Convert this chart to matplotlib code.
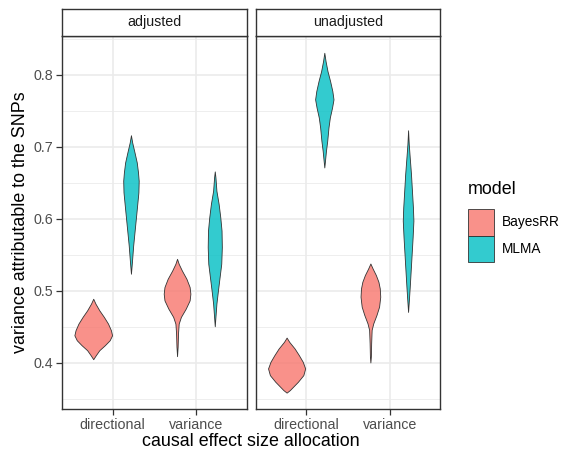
import numpy as np
import matplotlib
matplotlib.use('Agg')
import matplotlib.pyplot as plt
from matplotlib.colors import to_rgba
from matplotlib.patches import Rectangle

plt.rcParams['font.family'] = ['Liberation Sans', 'DejaVu Sans']

facets = ['adjusted', 'unadjusted']
allocations = ['directional', 'variance']
models = ['BayesRR', 'MLMA']
model_colors = ['#F8766D', '#00BFC4']
y_ticks = [0.4, 0.5, 0.6, 0.7, 0.8]
y_title = 'variance attributable to the SNPs'
x_title = 'causal effect size allocation'
legend_title = 'model'

# Violin profiles: value (y) and relative density (d)
adj_dir_bayes_y = [0.4883, 0.4815, 0.4722, 0.4631, 0.4538, 0.4446, 0.4376, 0.4307, 0.4238, 0.4169, 0.4100, 0.4044]
adj_dir_bayes_d = [0.0, 2.3, 6.3, 11.0, 15.3, 18.3, 19.5, 17.0, 12.0, 6.3, 2.7, 0.0]

adj_dir_mlma_y = [0.7152, 0.7051, 0.6913, 0.6775, 0.6636, 0.6520, 0.6360, 0.6221, 0.6083, 0.5852, 0.5621, 0.5391, 0.5230]
adj_dir_mlma_d = [0.0, 1.3, 3.7, 6.0, 7.3, 8.0, 7.7, 6.7, 5.7, 4.0, 2.3, 1.0, 0.0]

adj_var_bayes_y = [0.5437, 0.5368, 0.5275, 0.5160, 0.5046, 0.4953, 0.4860, 0.4746, 0.4631, 0.4538, 0.4400, 0.4216, 0.4086]
adj_var_bayes_d = [0.0, 1.7, 5.0, 9.7, 13.0, 13.8, 13.0, 9.0, 4.0, 1.7, 1.0, 0.6, 0.0]

adj_var_mlma_y = [0.6650, 0.6567, 0.6382, 0.6198, 0.6014, 0.5829, 0.5599, 0.5368, 0.5184, 0.4999, 0.4815, 0.4631, 0.4501]
adj_var_mlma_d = [0.0, 0.7, 1.7, 4.0, 5.7, 7.0, 7.3, 6.7, 5.0, 3.3, 1.7, 0.7, 0.0]

unadj_dir_bayes_y = [0.4344, 0.4285, 0.4192, 0.4100, 0.4008, 0.3916, 0.3823, 0.3731, 0.3662, 0.3615, 0.3580]
unadj_dir_bayes_d = [0.0, 2.7, 8.3, 12.7, 16.7, 19.2, 17.3, 11.7, 6.7, 3.3, 0.0]

unadj_dir_mlma_y = [0.8296, 0.8180, 0.8041, 0.7903, 0.7765, 0.7650, 0.7535, 0.7397, 0.7259, 0.7073, 0.6935, 0.6797, 0.6705]
unadj_dir_mlma_d = [0.0, 1.3, 3.3, 6.0, 8.3, 9.5, 8.0, 5.7, 4.3, 3.0, 1.7, 0.7, 0.0]

unadj_var_bayes_y = [0.5372, 0.5303, 0.5211, 0.5119, 0.5027, 0.4911, 0.4773, 0.4658, 0.4542, 0.4451, 0.4266, 0.4082, 0.3999]
unadj_var_bayes_d = [0.0, 2.3, 5.7, 8.3, 9.7, 10.2, 9.0, 6.3, 3.0, 1.3, 0.8, 0.5, 0.0]

unadj_var_mlma_y = [0.7221, 0.7028, 0.6844, 0.6613, 0.6382, 0.6152, 0.5967, 0.5737, 0.5506, 0.5275, 0.5046, 0.4860, 0.4700]
unadj_var_mlma_d = [0.0, 0.7, 1.7, 3.0, 4.0, 5.0, 5.5, 4.7, 3.7, 2.7, 1.7, 0.8, 0.0]

profiles = {
    ('adjusted', 'directional', 'BayesRR'): (adj_dir_bayes_y, adj_dir_bayes_d),
    ('adjusted', 'directional', 'MLMA'): (adj_dir_mlma_y, adj_dir_mlma_d),
    ('adjusted', 'variance', 'BayesRR'): (adj_var_bayes_y, adj_var_bayes_d),
    ('adjusted', 'variance', 'MLMA'): (adj_var_mlma_y, adj_var_mlma_d),
    ('unadjusted', 'directional', 'BayesRR'): (unadj_dir_bayes_y, unadj_dir_bayes_d),
    ('unadjusted', 'directional', 'MLMA'): (unadj_dir_mlma_y, unadj_dir_mlma_d),
    ('unadjusted', 'variance', 'BayesRR'): (unadj_var_bayes_y, unadj_var_bayes_d),
    ('unadjusted', 'variance', 'MLMA'): (unadj_var_mlma_y, unadj_var_mlma_d),
}

W, H = 561, 454
fig = plt.figure(figsize=(W / 100, H / 100), dpi=100)
fig.patch.set_facecolor('white')

SMALL = 10.3
BIG = 12.9

def fbox(x0, y0, x1, y1):
    return [x0 / W, 1 - y1 / H, (x1 - x0) / W, (y1 - y0) / H]

panel_x = [(62.3, 246.7), (255.7, 440.0)]
panel_top, panel_bot = 35.7, 409.0
strip_top = 8.7

dmax = max(max(d) for _, d in profiles.values())
dodge = 0.9
half_w = dodge / 2 / 2
edge = '#333333'

for fi, facet in enumerate(facets):
    x0, x1 = panel_x[fi]
    ax = fig.add_axes(fbox(x0, panel_top, x1, panel_bot))
    ax.set_xlim(0.4, 2.6)
    ax.set_ylim(0.336, 0.854)
    # grid
    for yv in np.arange(0.35, 0.86, 0.1):
        ax.axhline(yv, color='#EBEBEB', lw=0.6, zorder=0)
    for yv in y_ticks:
        ax.axhline(yv, color='#EBEBEB', lw=1.2, zorder=0)
    for xi in range(len(allocations)):
        ax.axvline(xi + 1, color='#EBEBEB', lw=1.2, zorder=0)
    # violins
    for ai, alloc in enumerate(allocations):
        for mi, model in enumerate(models):
            yv, dv = profiles[(facet, alloc, model)]
            yv = np.array(yv)
            dv = np.array(dv)
            cx = ai + 1 + (mi - 0.5) * dodge / 2
            hw = dv / dmax * half_w
            xs = np.concatenate([cx - hw, (cx + hw)[::-1]])
            ys = np.concatenate([yv, yv[::-1]])
            ax.fill(xs, ys, facecolor=to_rgba(model_colors[mi], 0.8),
                    edgecolor=edge, lw=0.6, zorder=3, joinstyle='round')
    ax.set_xticks(range(1, len(allocations) + 1))
    ax.set_xticklabels(allocations)
    ax.set_yticks(y_ticks)
    if fi == 0:
        ax.set_yticklabels([f'{v:.1f}' for v in y_ticks])
        ax.tick_params(axis='y', length=4, width=0.9, color=edge,
                       labelsize=SMALL, labelcolor='#4D4D4D', pad=2.5)
    else:
        ax.tick_params(axis='y', length=0, labelleft=False)
    ax.tick_params(axis='x', length=4, width=0.9, color=edge,
                   labelsize=SMALL, labelcolor='#4D4D4D', pad=2.5)
    for sp in ax.spines.values():
        sp.set_color(edge)
        sp.set_linewidth(1.0)
    # strip
    sax = fig.add_axes(fbox(x0, strip_top, x1, panel_top))
    sax.set_xticks([])
    sax.set_yticks([])
    sax.set_facecolor('white')
    for sp in sax.spines.values():
        sp.set_color(edge)
        sp.set_linewidth(1.0)
    sax.text(0.5, 0.5, facet, ha='center', va='center', fontsize=SMALL,
             color='#1A1A1A', transform=sax.transAxes)

# axis titles
fig.text((62.3 + 440.0) / 2 / W, 1 - 441.5 / H, x_title, ha='center', va='center',
         fontsize=BIG, color='black')
fig.text(21 / W, 1 - (panel_top + panel_bot) / 2 / H, y_title, ha='center', va='center',
         rotation=90, fontsize=BIG, color='black')

# legend
fig.text(467.5 / W, 1 - 190 / H, legend_title, ha='left', va='center', fontsize=BIG, color='black')
key_x0, key_x1 = 467.5, 494.0
key_tops = [209.0, 235.7]
key_h = 26.6
for mi, model in enumerate(models):
    top = key_tops[mi]
    r = Rectangle((key_x0 / W, 1 - (top + key_h) / H), (key_x1 - key_x0) / W, key_h / H,
                  transform=fig.transFigure, facecolor=to_rgba(model_colors[mi], 0.8),
                  edgecolor=edge, lw=0.6)
    fig.patches.append(r)
    fig.text(501.5 / W, 1 - (top + key_h / 2) / H, model, ha='left', va='center',
             fontsize=9.8, color='black')

fig.savefig('out.png', dpi=100, facecolor='white')
